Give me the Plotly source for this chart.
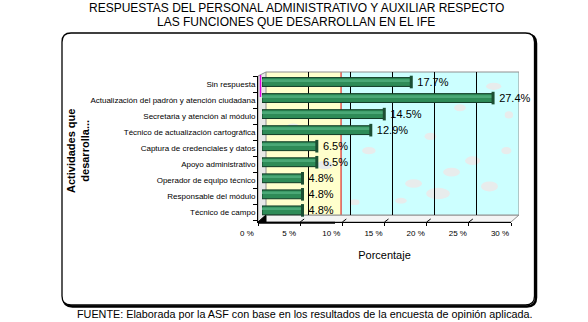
import plotly.graph_objects as go

W, H = 588, 322

# Survey data (top to bottom as listed in the chart)
categorias = [
    "Sin respuesta",
    "Actualización del padrón y atención ciudadana",
    "Secretaria y atención al módulo",
    "Técnico de actualización cartográfica",
    "Captura de credenciales y datos",
    "Apoyo administrativo",
    "Operador de equipo técnico",
    "Responsable del módulo",
    "Técnico de campo",
]
porcentajes = [17.7, 27.4, 14.5, 12.9, 6.5, 6.5, 4.8, 4.8, 4.8]

ticks_x = [0, 5, 10, 15, 20, 25, 30]
etiquetas_x = ["0 %", "5 %", "10 %", "15 %", "20 %", "25 %", "30 %"]

titulo_1 = "RESPUESTAS DEL PERSONAL ADMINISTRATIVO Y AUXILIAR RESPECTO"
titulo_2 = "LAS FUNCIONES QUE DESARROLLAN EN EL IFE"
titulo_y = "<b>Actividades que<br>desarrolla...</b>"
titulo_x = "Porcentaje"
fuente = "FUENTE: Elaborada por la ASF con base en los resultados de la encuesta de opinión aplicada."

FONT = "Liberation Sans, Arial, sans-serif"


def X(px):
    return px / W


def Y(py):
    return 1 - py / H


def rounded_rect(x0, y0, x1, y1, r):
    return (
        f"M{X(x0 + r)},{Y(y0)} L{X(x1 - r)},{Y(y0)} Q{X(x1)},{Y(y0)} {X(x1)},{Y(y0 + r)} "
        f"L{X(x1)},{Y(y1 - r)} Q{X(x1)},{Y(y1)} {X(x1 - r)},{Y(y1)} "
        f"L{X(x0 + r)},{Y(y1)} Q{X(x0)},{Y(y1)} {X(x0)},{Y(y1 - r)} "
        f"L{X(x0)},{Y(y0 + r)} Q{X(x0)},{Y(y0)} {X(x0 + r)},{Y(y0)} Z"
    )


def poly(points):
    return "M" + " L".join(f"{X(a)},{Y(b)}" for a, b in points) + " Z"


orden = categorias[::-1]
rango_y = [-0.581, 8.5]

fig = go.Figure()

# Bars sit half-way between the front axis plane and the back wall
fig.add_trace(go.Bar(
    x=porcentajes, y=categorias, orientation="h",
    xaxis="x3", yaxis="y3",
    width=0.55,
    marker=dict(color="#2E8B57", line=dict(color="#0f3a24", width=1)),
    texttemplate="\u00a0%{x:.1f}%", textposition="outside", constraintext="none",
    textfont=dict(family=FONT, size=11, color="black"),
    cliponaxis=False, hoverinfo="skip",
))
# Light upper band giving the cylinders some shading
fig.add_trace(go.Bar(
    x=porcentajes, y=categorias, orientation="h",
    xaxis="x3", yaxis="y3",
    width=0.12, offset=0.06,
    marker=dict(color="#4aa876", line=dict(width=0)),
    hoverinfo="skip",
))
# Dark end caps of the cylinders
fig.add_trace(go.Scatter(
    x=porcentajes, y=categorias, xaxis="x3", yaxis="y3",
    mode="markers", cliponaxis=False, hoverinfo="skip",
    marker=dict(symbol="line-ns", size=9, line=dict(width=3, color="#1b4f33")),
))

# light grey speckles of the wall texture (x2 units, y2 in 0..1)
manchas = [
    (1.5, 0.15, 0.9, 0.025), (3.2, 0.62, 0.7, 0.02), (7.0, 0.35, 1.0, 0.03),
    (10.5, 0.09, 0.6, 0.02), (12.2, 0.45, 0.8, 0.025), (17.5, 0.22, 1.0, 0.03),
    (20.4, 0.15, 1.4, 0.04), (22.0, 0.30, 1.0, 0.03), (24.5, 0.38, 0.9, 0.03),
    (19.5, 0.55, 0.7, 0.025), (26.5, 0.20, 1.0, 0.035), (28.5, 0.45, 0.6, 0.025),
    (13.5, 0.72, 0.6, 0.02), (23.0, 0.75, 0.7, 0.025), (28.8, 0.70, 0.5, 0.025),
    (16.0, 0.10, 0.7, 0.02), (27.0, 0.90, 0.9, 0.025), (9.5, 0.60, 0.5, 0.025),
]

shapes = [
    # outer frame with drop shadow
    dict(type="path", xref="paper", yref="paper", layer="below",
         path=rounded_rect(63.5, 34.5, 536, 306.5, 9), line=dict(color="black", width=2.5)),
    dict(type="path", xref="paper", yref="paper", layer="below",
         path=rounded_rect(62, 33, 534.5, 305, 9), fillcolor="white", line=dict(color="black", width=1.3)),
    # left side wall and floor of the 3D box
    dict(type="path", xref="paper", yref="paper", layer="below",
         path=poly([(258, 76), (266, 72), (266, 215), (258, 222)]),
         fillcolor="#e8e8e8", line=dict(color="#909090", width=1)),
    dict(type="path", xref="paper", yref="paper", layer="below",
         path=poly([(258, 222), (511, 222), (519, 215), (266, 215)]),
         fillcolor="#f4f4f4", line=dict(color="#909090", width=1)),
    dict(type="path", xref="paper", yref="paper", layer="below",
         path=poly([(258, 222), (266, 215), (266, 222)]),
         fillcolor="black", line=dict(color="black", width=1)),
    # back wall fills
    dict(type="rect", xref="x2", yref="y2 domain", layer="below",
         x0=0, x1=8.9, y0=0, y1=1, fillcolor="#FFFFCC", line=dict(width=0)),
    dict(type="rect", xref="x2", yref="y2 domain", layer="below",
         x0=8.9, x1=30, y0=0, y1=1, fillcolor="#CCFFFF", line=dict(width=0)),
]
for cx, cy, rx, ry in manchas:
    shapes.append(dict(type="circle", xref="x2", yref="y2", layer="below",
                       x0=cx - rx, x1=cx + rx, y0=cy - ry, y1=cy + ry,
                       fillcolor="#e8ecec", line=dict(width=0)))
shapes += [
    dict(type="line", xref="x2", yref="y2 domain", layer="below",
         x0=8.9, x1=8.9, y0=0, y1=1, line=dict(color="#E00000", width=1)),
    dict(type="rect", xref="x2", yref="y2 domain", layer="below",
         x0=0, x1=30, y0=0, y1=1, line=dict(color="#909090", width=1)),
    # thick front edge of the floor
    dict(type="line", xref="paper", yref="paper", layer="above",
         x0=X(258), x1=X(335), y0=Y(222.8), y1=Y(222.8), line=dict(color="black", width=2)),
    dict(type="line", xref="paper", yref="paper", layer="above",
         x0=X(260.5), x1=X(260.5), y0=Y(75), y1=Y(97), line=dict(color="#E000E0", width=1.5)),
]
# floor grid stubs running back from the front axis
for v in ticks_x[1:-1]:
    shapes.append(dict(type="line", xref="x", yref="paper", layer="above",
                       xsizemode="pixel", xanchor=v, x0=0, x1=4,
                       ysizemode="pixel", yanchor=Y(222), y0=0, y1=3,
                       line=dict(color="black", width=1)))

annotations = [
    dict(text=titulo_1, x=X(296), y=Y(8), xref="paper", yref="paper", showarrow=False,
         xanchor="center", yanchor="middle", font=dict(family=FONT, size=12, color="black")),
    dict(text=titulo_2, x=X(296), y=Y(21.5), xref="paper", yref="paper", showarrow=False,
         xanchor="center", yanchor="middle", font=dict(family=FONT, size=12, color="black")),
    dict(text=titulo_y, x=X(78), y=Y(151), xref="paper", yref="paper", showarrow=False,
         textangle=-90, xanchor="center", yanchor="middle",
         font=dict(family=FONT, size=11, color="black")),
    dict(text=fuente, x=X(305), y=Y(314), xref="paper", yref="paper", showarrow=False,
         xanchor="center", yanchor="middle", font=dict(family=FONT, size=10.8, color="black")),
]

fig.update_layout(
    width=W, height=H,
    margin=dict(l=0, r=0, t=0, b=0, autoexpand=False),
    paper_bgcolor="white", plot_bgcolor="rgba(0,0,0,0)",
    showlegend=False, barmode="overlay",
    font=dict(family=FONT, color="black"),
    shapes=shapes, annotations=annotations,
    xaxis=dict(
        domain=[X(258), X(511)], range=[0, 30], anchor="y", automargin=False,
        tickvals=ticks_x, ticktext=etiquetas_x,
        ticks="outside", ticklen=3, tickcolor="black",
        showline=True, linecolor="black", linewidth=1,
        showgrid=False, zeroline=False,
        tickfont=dict(family=FONT, size=8), ticklabelshift=-11,
        title=dict(text=titulo_x, font=dict(family=FONT, size=11), standoff=14),
    ),
    yaxis=dict(
        domain=[Y(222), Y(76.3)], type="category", automargin=False,
        categoryorder="array", categoryarray=orden, range=rango_y, anchor="x",
        showline=True, linecolor="black", linewidth=1,
        ticks="outside", tickson="boundaries", ticklen=4, tickcolor="black",
        showgrid=False, zeroline=False,
        tickfont=dict(family=FONT, size=8),
    ),
    xaxis2=dict(
        domain=[X(266), X(519)], range=[0, 30], anchor="y2", automargin=False,
        tickvals=[5, 10, 15, 20, 25], showgrid=True, gridcolor="black", gridwidth=1,
        showticklabels=False, ticks="", zeroline=False, showline=False,
    ),
    yaxis2=dict(domain=[Y(215), Y(72)], anchor="x2", visible=False, range=[0, 1],
                automargin=False),
    xaxis3=dict(domain=[X(262), X(515)], range=[0, 30], anchor="y3", visible=False,
                automargin=False),
    yaxis3=dict(
        domain=[Y(222 - 2.3), Y(76.3 - 2.3)], type="category", automargin=False,
        categoryorder="array", categoryarray=orden, range=rango_y,
        anchor="x3", visible=False,
    ),
)

fig.write_html("out.html")
